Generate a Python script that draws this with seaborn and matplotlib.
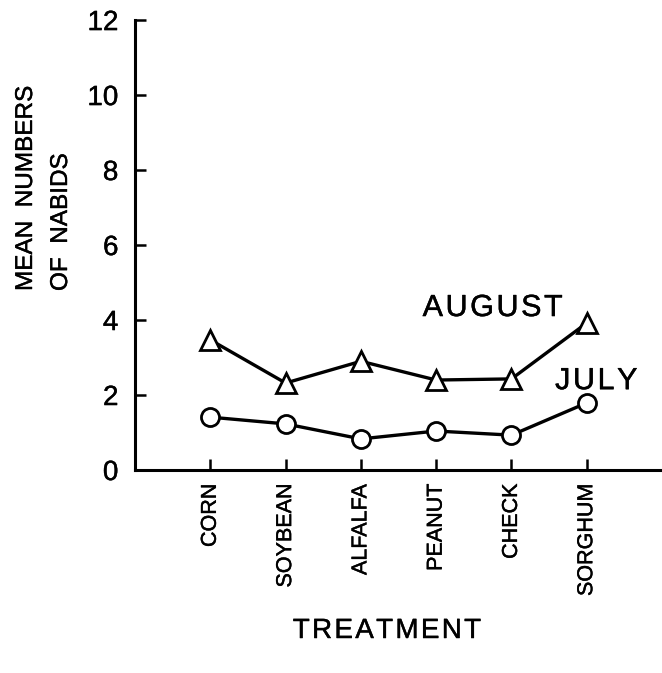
import matplotlib
matplotlib.use("Agg")
import matplotlib.pyplot as plt
import matplotlib.patheffects as pe
import seaborn as sns
import pandas as pd

treatments = ["CORN", "SOYBEAN", "ALFALFA", "PEANUT", "CHECK", "SORGHUM"]
august = [3.47, 2.32, 2.9, 2.4, 2.43, 3.92]
july = [1.41, 1.23, 0.83, 1.04, 0.93, 1.79]
yticks = [0, 2, 4, 6, 8, 10, 12]

sns.set_theme(style="ticks")
plt.rcParams["font.family"] = ["Liberation Sans", "DejaVu Sans"]
plt.rcParams["text.color"] = "black"
plt.rcParams["axes.labelcolor"] = "black"
plt.rcParams["xtick.color"] = "black"
plt.rcParams["ytick.color"] = "black"

HS = "\u200a"
heavy = [pe.withStroke(linewidth=0.3, foreground="black")]

fig = plt.figure(figsize=(6.62, 6.73), dpi=100)
ax = fig.add_axes([0.204, 0.3016, 0.796, 0.6686])

xpos = list(range(len(treatments)))
df = pd.DataFrame({"x": xpos * 2,
                   "y": august + july,
                   "month": ["AUGUST"] * 6 + ["JULY"] * 6})

sns.lineplot(data=df[df.month == "AUGUST"], x="x", y="y", ax=ax, color="black",
             lw=2.4, marker="^", markersize=14, markerfacecolor="white",
             markeredgecolor="black", markeredgewidth=2, legend=False)
sns.lineplot(data=df[df.month == "JULY"], x="x", y="y", ax=ax, color="black",
             lw=2.4, marker="o", markersize=13, markerfacecolor="white",
             markeredgecolor="black", markeredgewidth=2, legend=False)

ax.set_xlim(-1, 6)
ax.set_ylim(0, 12)
ax.set_yticks(yticks)
ax.set_yticklabels([str(t) for t in yticks], fontsize=20)
ax.set_xticks(xpos)
ax.set_xticklabels(treatments, rotation=90, fontsize=15.5)
ax.tick_params(axis="both", direction="in", length=8, width=1.8, pad=12, colors="black")
ax.tick_params(axis="x", pad=10)
for s in ["top", "right"]:
    ax.spines[s].set_visible(False)
for s in ["left", "bottom"]:
    ax.spines[s].set_linewidth(2.2)
    ax.spines[s].set_color("black")
ax.spines["left"].set_bounds(0, 12)

ax.set_xlabel(HS.join("TREATMENT"), fontsize=20)
ax.xaxis.set_label_coords((387 - 135) / 527, -(631 - 470) / 450)
ax.xaxis.label.set_va("center")
ax.set_ylabel("")

t1 = fig.text(26 / 662, 1 - 291 / 673, "MEAN  NUMBERS", rotation=90, rotation_mode="anchor",
              ha="left", va="center", fontsize=17.5)
t2 = fig.text(61 / 662, 1 - 291 / 673, "OF  NABIDS", rotation=90, rotation_mode="anchor",
              ha="left", va="center", fontsize=17.5)

a1 = ax.text(2.82, 4.32, HS.join("AUGUST"), fontsize=22, ha="left", va="center")
a2 = ax.text(4.58, 2.37, HS.join("JULY"), fontsize=22, ha="left", va="center")

for t in [t1, t2, a1, a2, ax.xaxis.label] + ax.get_xticklabels() + ax.get_yticklabels():
    t.set_path_effects(heavy)

fig.savefig("out.png", dpi=100)
